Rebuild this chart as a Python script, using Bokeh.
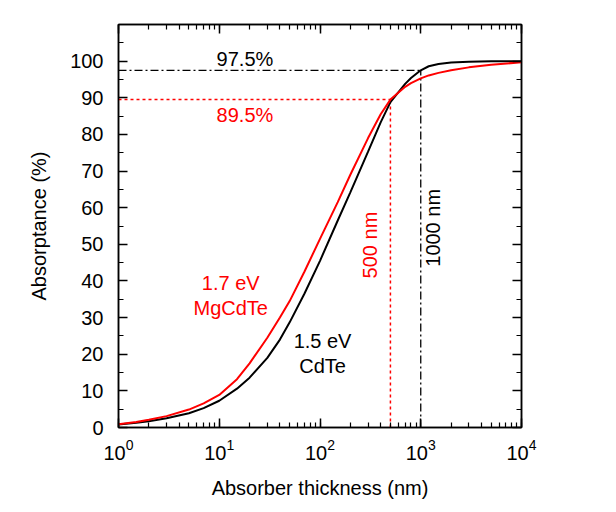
import math
from bokeh.plotting import figure
from bokeh.models import Range1d, LogAxis, LinearAxis, FixedTicker, LogTicker, Label
from bokeh.embed import file_html
from bokeh.resources import INLINE

# ---- data ----
thickness_nm = [1, 1.5, 2, 3, 5, 7, 10, 15, 20, 30, 40, 50, 70, 100, 150, 200,
                300, 400, 500, 700, 800, 1000, 1200, 1500, 2000, 3000, 5000, 10000]
cdte_abs = [0.8, 1.3, 1.7, 2.5, 3.9, 5.3, 7.3, 10.6, 13.6, 19.0, 24.0, 28.7, 36.5,
            45.5, 56.5, 64.2, 75.3, 83.3, 88.8, 93.8, 95.4, 97.5, 98.6, 99.2, 99.6,
            99.85, 99.95, 100.0]
mgcdte_abs = [0.9, 1.5, 2.1, 3.1, 4.9, 6.6, 8.9, 13.2, 17.5, 24.5, 30.0, 34.5, 42.5,
              51.5, 61.5, 69.0, 79.0, 85.5, 89.5, 93.0, 94.0, 95.3, 96.1, 96.8, 97.5,
              98.3, 99.0, 99.7]

cdte_ref_thick = 1000
cdte_ref_abs = 97.5
mg_ref_thick = 500
mg_ref_abs = 89.5

y_major = [0, 10, 20, 30, 40, 50, 60, 70, 80, 90, 100]
y_minor = [5, 15, 25, 35, 45, 55, 65, 75, 85, 95, 105]

FONT = "Liberation Sans"
FS = "20px"
RED = "#ff0000"

p = figure(width=616, height=512, x_axis_type="log",
           x_range=Range1d(1, 10000), y_range=Range1d(0, 110),
           output_backend="svg", toolbar_location=None,
           min_border_left=118, min_border_right=95,
           min_border_top=24, min_border_bottom=85)
p.background_fill_color = "white"
p.border_fill_color = "white"
p.grid.visible = False
p.outline_line_color = "black"
p.outline_line_width = 1.5

# reference lines
p.line([1, cdte_ref_thick], [cdte_ref_abs, cdte_ref_abs], color="black", line_width=1.3, line_dash="8 3 2 3")
p.line([cdte_ref_thick, cdte_ref_thick], [0, cdte_ref_abs], color="black", line_width=1.3, line_dash="8 3 2 3")
p.line([1, mg_ref_thick], [mg_ref_abs, mg_ref_abs], color=RED, line_width=1.5, line_dash="3 3")
p.line([mg_ref_thick, mg_ref_thick], [0, mg_ref_abs], color=RED, line_width=1.5, line_dash="3 3")

# curves
p.line(thickness_nm, cdte_abs, color="black", line_width=2)
p.line(thickness_nm, mgcdte_abs, color=RED, line_width=2)

# axes
xa = p.xaxis[0]
xa.ticker = LogTicker(num_minor_ticks=10)
ya = p.yaxis[0]
ya.ticker = FixedTicker(ticks=y_major, minor_ticks=y_minor)

for ax in (xa, ya):
    ax.axis_line_color = "black"
    ax.axis_line_width = 1.5
    ax.major_tick_in = 9
    ax.major_tick_out = 0
    ax.minor_tick_in = 5
    ax.minor_tick_out = 0
    ax.major_tick_line_width = 1.5
    ax.minor_tick_line_width = 1.2
    ax.major_tick_line_color = "black"
    ax.minor_tick_line_color = "black"
    ax.major_label_text_font = FONT
    ax.major_label_text_font_size = FS
    ax.major_label_text_color = "black"
    ax.axis_label_text_font = FONT
    ax.axis_label_text_font_size = FS
    ax.axis_label_text_font_style = "normal"
    ax.axis_label_text_color = "black"

xa.axis_label = "Absorber thickness (nm)"
ya.axis_label = "Absorptance (%)"
xa.major_label_standoff = 11
xa.axis_label_standoff = 14
ya.major_label_standoff = 15
ya.axis_label_standoff = 17

top = LogAxis(ticker=LogTicker(num_minor_ticks=10))
right = LinearAxis(ticker=FixedTicker(ticks=y_major, minor_ticks=y_minor))
for ax in (top, right):
    ax.axis_line_color = "black"
    ax.axis_line_width = 1.5
    ax.major_tick_in = 9
    ax.major_tick_out = 0
    ax.minor_tick_in = 5
    ax.minor_tick_out = 0
    ax.major_tick_line_width = 1.5
    ax.minor_tick_line_width = 1.2
    ax.major_label_text_font_size = "0px"
    ax.major_label_text_color = None
    ax.major_label_standoff = 0
p.add_layout(top, "above")
p.add_layout(right, "right")

def lab(x, y, text, color="black", angle=0.0):
    p.add_layout(Label(x=x, y=y, text=text, text_color=color, text_font=FONT,
                       text_font_size=FS, text_align="center",
                       text_baseline="middle", angle=angle))

lab(18, 100.6, "97.5%")
lab(18, 85.4, "89.5%", RED)
lab(13, 39.4, "1.7 eV", RED)
lab(13, 32.6, "MgCdTe", RED)
lab(106, 23.5, "1.5 eV")
lab(106, 16.7, "CdTe")
lab(315, 49.8, "500 nm", RED, math.pi / 2)
lab(1310, 54.5, "1000 nm", "black", math.pi / 2)

open("out.html", "w").write(file_html(p, INLINE))
